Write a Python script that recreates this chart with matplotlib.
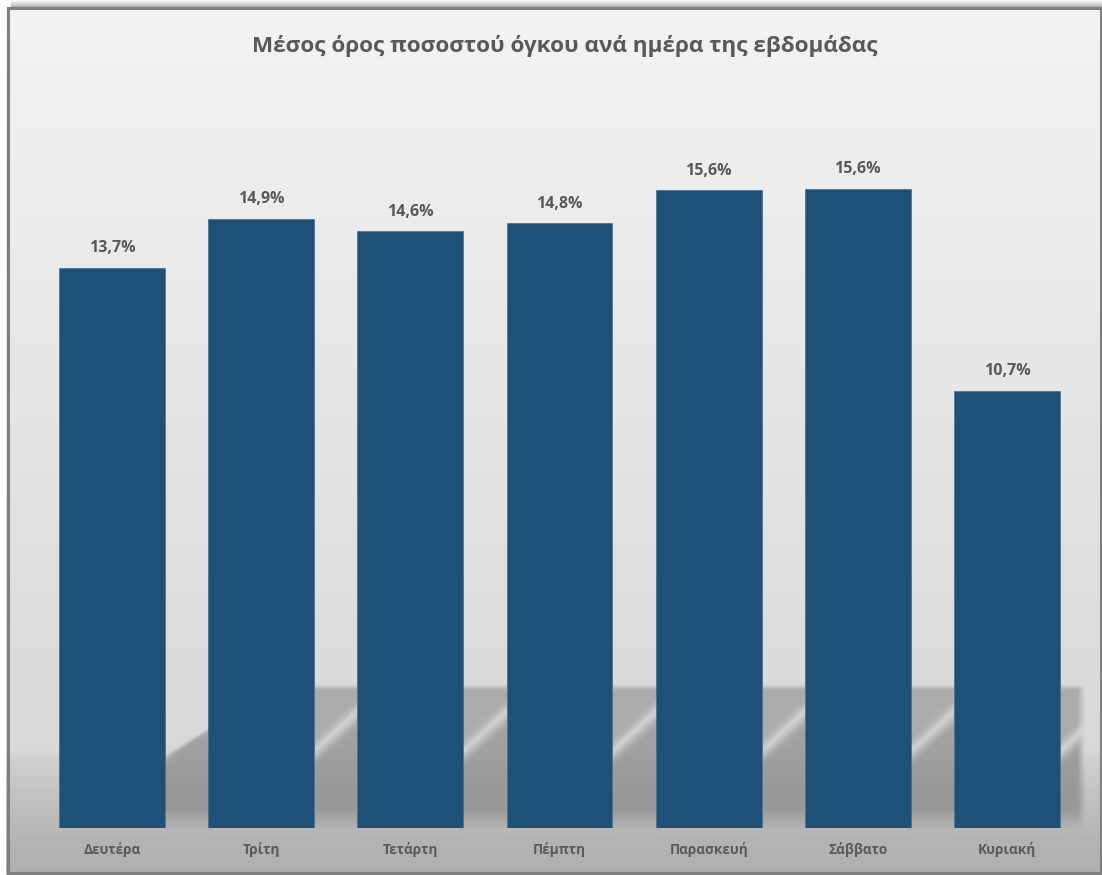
import numpy as np
import matplotlib.pyplot as plt
from matplotlib.patches import Rectangle

plt.rcParams['font.family'] = ['Open Sans', 'DejaVu Sans']

# ===== DATA =====
title = "Μέσος όρος ποσοστού όγκου ανά ημέρα της εβδομάδας"
days = ["Δευτέρα", "Τρίτη", "Τετάρτη", "Πέμπτη", "Παρασκευή", "Σάββατο", "Κυριακή"]
values = [13.7, 14.9, 14.6, 14.8, 15.6, 15.64, 10.7]

# ===== LAYOUT (pixels) =====
W, H = 1102, 875
AX_L, AX_R, AX_B, AX_T = 37.4, 1081.6, 828, 99
PX_PER_UNIT = 40.88
BAR_W = 0.71
BAR_COLOR = "#1F5078"
TEXT_COLOR = "#595959"

# ===== BACKGROUND (gradient + 3D floor shading) =====
yy, xx = np.mgrid[0:H, 0:W].astype(float)
img = np.interp(yy, [9, 400, 650, 750, 758, 780, 805, 840, 872],
                [242, 229, 219, 216, 208, 199, 190, 180, 174])

slot = (AX_R - AX_L) / len(days)
rights = [AX_L + (i + 0.5 + BAR_W / 2) * slot for i in range(len(days))]
gap = slot * (1 - BAR_W)
for i, r in enumerate(rights):
    gw = gap if i < len(days) - 1 else 25
    x0, x1 = int(np.floor(r)) - 1, int(np.ceil(r + gw)) + 1
    sub_y = yy[:, x0:x1]
    u = xx[:, x0:x1] - r
    top = np.maximum(684, 753 - 0.6 * (xx[:, x0:x1] - rights[0]))
    yc = 752 - 0.93 * u
    d = sub_y - yc
    below = np.interp(sub_y, [700, 790, 808, 830], [168, 152, 152, 182])
    val = np.where(d < 0, 172, below) + 38 * np.exp(-(d / 8.0) ** 2)
    alpha = np.clip((sub_y - top) / 5, 0, 1) * (sub_y <= AX_B + 2)
    if i == len(days) - 1:
        alpha = alpha * np.clip((r + gw - xx[:, x0:x1]) / 8, 0, 1)
    img[:, x0:x1] = img[:, x0:x1] * (1 - alpha) + val * alpha

# soft blur
for _ in range(2):
    img = (img + np.roll(img, 1, 0) + np.roll(img, -1, 0)
           + np.roll(img, 1, 1) + np.roll(img, -1, 1)) / 5

# outside frame: white with a soft shadow above the top edge
shadow = np.interp(yy, [0, 7], [250, 170]) * (xx > 10) + 255 * (xx <= 10)
img = np.where(yy < 7, shadow, img)
img = np.where((xx < 6) | (xx > W - 1), 255, img)

fig = plt.figure(figsize=(W / 100, H / 100), dpi=100)
bg = fig.add_axes([0, 0, 1, 1])
bg.imshow(img, cmap="gray", vmin=0, vmax=255, extent=(0, W, H, 0),
          aspect="auto", interpolation="bilinear", zorder=0)
bg.add_patch(Rectangle((7.5, 7.5), W - 9, H - 10, fill=False,
                       edgecolor="#7F7F7F", linewidth=2.2, zorder=2))
bg.set_xlim(0, W)
bg.set_ylim(H, 0)
bg.axis("off")

# ===== BARS =====
ax = fig.add_axes([AX_L / W, 1 - AX_B / H, (AX_R - AX_L) / W, (AX_B - AX_T) / H])
ax.patch.set_alpha(0)
x = np.arange(len(days))
ax.bar(x, values, BAR_W, color=BAR_COLOR, edgecolor="#4D7398", linewidth=0.6)
ax.set_xlim(-0.5, len(days) - 0.5)
ax.set_ylim(0, (AX_B - AX_T) / PX_PER_UNIT)

for i, v in enumerate(values):
    lbl = f"{v:.1f}".replace(".", ",") + "%"
    ax.annotate(lbl, (i, v), xytext=(0, 14), textcoords="offset points",
                ha="center", va="center", fontsize=11.5, fontweight="bold",
                color=TEXT_COLOR)

ax.set_xticks(x)
ax.set_xticklabels(days, fontsize=9.8, fontweight="bold", color=TEXT_COLOR)
ax.tick_params(axis="x", length=0, pad=10)
ax.set_yticks([])
for s in ax.spines.values():
    s.set_visible(False)

fig.text(565 / W, 1 - 46 / H, title, ha="center", va="center",
         fontsize=16.2, fontweight="bold", color=TEXT_COLOR)

fig.savefig("out.png", dpi=100)
